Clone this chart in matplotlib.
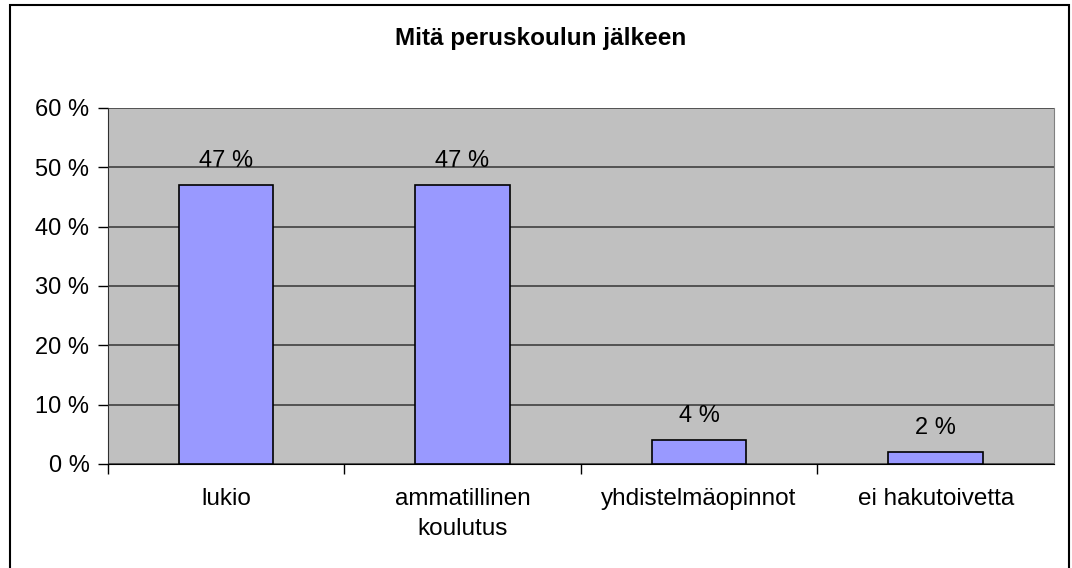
import matplotlib.pyplot as plt
from matplotlib.patches import Rectangle

categories = ['lukio', 'ammatillinen\nkoulutus', 'yhdistelmäopinnot', 'ei hakutoivetta']
values = [47, 47, 4, 2]
y_ticks = [0, 10, 20, 30, 40, 50, 60]

plt.rcParams['font.family'] = ['Liberation Sans', 'DejaVu Sans']

fig = plt.figure(figsize=(10.72, 5.68), dpi=100)
ax = fig.add_axes([0.1003, 0.1831, 0.8829, 0.6268])
ax.set_facecolor('#C0C0C0')

x = range(len(categories))
ax.bar(x, values, width=0.4, color='#9999FF', edgecolor='black', linewidth=1.2, zorder=3)
for i, v in enumerate(values):
    ax.annotate(f'{v} %', (i, v), xytext=(0, 13), textcoords='offset points',
                ha='center', va='baseline', fontsize=17, zorder=4)

ax.set_xlim(-0.5, len(categories) - 0.5)
ax.set_ylim(0, 60)
ax.set_yticks(y_ticks)
ax.set_yticklabels([f'{t} %' for t in y_ticks], fontsize=17)
ax.yaxis.grid(True, color='#404040', linewidth=1.2, zorder=1)
ax.set_axisbelow(True)

# category separators as major ticks, labels on minor ticks at bar centres
ax.set_xticks([i + 0.5 for i in range(len(categories) - 1)] + [-0.5])
ax.set_xticklabels([])
ax.set_xticks(list(x), minor=True)
ax.set_xticklabels(categories, minor=True, fontsize=17.5, linespacing=1.5)
ax.tick_params(axis='x', which='minor', length=0, pad=17)
ax.tick_params(axis='x', which='major', length=7, width=1, color='black')
ax.tick_params(axis='y', length=7, width=1, pad=6)

ax.spines['right'].set_color('#808080')
ax.spines['top'].set_visible(False)
ax.spines['left'].set_color('#303030')
ax.spines['bottom'].set_color('black')

fig.text(0.5047, 0.9208, 'Mitä peruskoulun jälkeen', ha='center', va='baseline',
         fontsize=17.5, fontweight='bold')

fig.patches.append(Rectangle((10 / 1072, -0.05), 1059 / 1072, (568 - 5) / 568 + 0.05,
                             transform=fig.transFigure, fill=False,
                             edgecolor='black', linewidth=1.5))

fig.savefig('out.png', dpi=100)
